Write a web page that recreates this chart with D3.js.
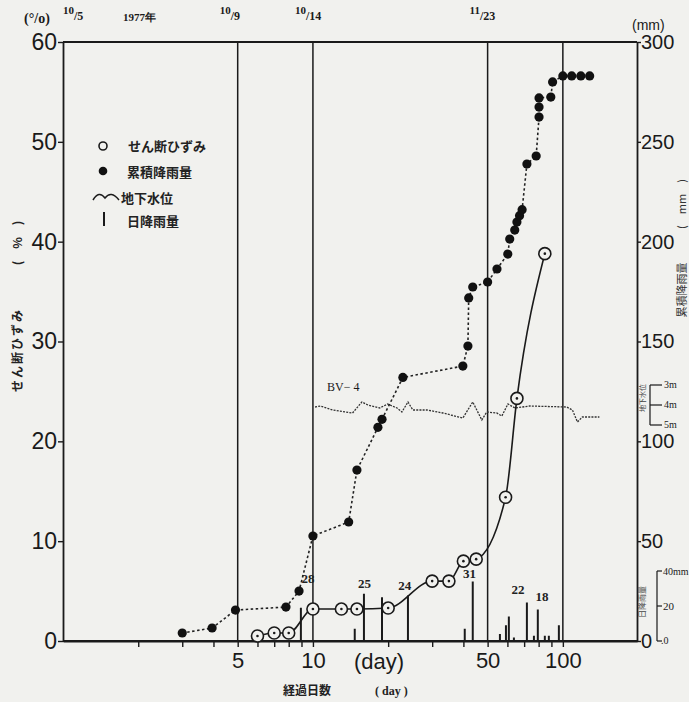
<!DOCTYPE html>
<html>
<head>
<meta charset="utf-8">
<script src="https://cdn.jsdelivr.net/npm/d3@7"></script>
<style>
  body { margin: 0; background: #f1f1ee; }
  svg { display: block; }
</style>
</head>
<body>
<div id="chart"></div>
<script>
// shear strain (%) - open circles
var strainDays = [6, 7, 8, 10, 13, 15, 20, 30, 35, 40, 45, 59, 65.5, 84.7];
var strainVals = [0.5, 0.8, 0.8, 3.2, 3.2, 3.2, 3.3, 6.0, 6.0, 8.0, 8.2, 14.4, 24.3, 38.8];

// cumulative rainfall (mm) - filled circles
var cumDays = [3, 3.95, 4.9, 7.8, 8.8, 10, 13.9, 15, 18.2, 18.9, 22.9, 39.8, 41.7, 42, 43.6, 50, 54.5,
               60.2, 61.3, 64.2, 65.5, 67.1, 68.7, 71.8, 78.2, 80.3, 80.3, 80.3, 89.5, 91, 100, 108.5, 118, 128];
var cumMm = [4, 6.5, 15.5, 17, 25, 52.6, 59.6, 85.6, 107, 111, 132, 137.7, 147.7, 171.8, 177.3, 179.8, 186.3,
             193.8, 201.3, 205.8, 209.8, 213, 216, 238.9, 242.9, 262.4, 267.4, 272, 272.4, 280, 283, 283, 283, 283];

// groundwater level BV-4 (m below surface)
var gwDays = [10.2, 10.7, 12.0, 14.4, 15.7, 16.6, 18.5, 19.9, 21.7, 22.7, 24.0, 25.1, 28.6, 33.1,
              39.8, 43.6, 47.4, 49.6, 54.4, 57.0, 60.3, 64.3, 73.7, 103.5, 109.2, 114.4, 119.7, 140];
var gwDepth = [4.1, 4.05, 4.25, 4.4, 3.85, 4.0, 4.15, 3.95, 4.15, 4.35, 3.85, 4.25, 4.25, 4.4,
               4.65, 3.85, 4.75, 4.35, 4.4, 4.55, 3.95, 4.15, 4.05, 4.1, 4.25, 4.85, 4.6, 4.6];

// daily rainfall (mm) - bars
var rainDays = [8.95, 14.7, 16.0, 18.9, 24.0, 40.5, 43.6, 56, 59.2, 60.8, 63.7, 71.8, 76.6, 79.4, 84.7, 87.9, 96.4];
var rainMm = [19, 7, 27, 25, 26, 7, 34, 4, 9, 14, 2, 22, 3, 18, 3, 3, 9];
var rainLabelDays = [9.55, 16.1, 23.3, 42.3, 66.1, 82.6];
var rainLabels = [28, 25, 24, 31, 22, 18];

// axes
var leftTicks = [0, 10, 20, 30, 40, 50, 60];
var rightTicks = [0, 50, 100, 150, 200, 250, 300];
var dayTicks = [2, 3, 4, 5, 6, 7, 8, 9, 10, 20, 30, 40, 50, 60, 70, 80, 90, 100];
var dayLabels = [5, 10, 50, 100];
var markDays = [5, 10, 50, 100];
var dateDays = [1, 5, 10, 50];
var dateMonth = ["10", "10", "10", "11"];
var dateDay = ["5", "9", "14", "23"];
var gwTicks = [3, 4, 5];

var W = 689, H = 702;
var svg = d3.select("#chart").append("svg").attr("width", W).attr("height", H);
svg.append("rect").attr("width", W).attr("height", H).attr("fill", "#f1f1ee");

var x = d3.scaleLog().domain([1, 198]).range([63, 637]);
var yL = d3.scaleLinear().domain([0, 60]).range([641, 42]);
var yR = d3.scaleLinear().domain([0, 300]).range([641, 42]);
var yRain = d3.scaleLinear().domain([0, 40]).range([641, 571]);
var yGw = d3.scaleLinear().domain([3, 5]).range([385, 425]);

var ink = "#1a1a1a";
var sans = "'Liberation Sans', Arial, sans-serif";
var serif = "'Liberation Serif', 'DejaVu Serif', serif";
var jp = "'Noto Sans CJK JP', sans-serif";

// vertical date lines
svg.append("g").selectAll("line").data(markDays).enter().append("line")
   .attr("x1", function(d) { return x(d); }).attr("x2", function(d) { return x(d); })
   .attr("y1", 42).attr("y2", 641)
   .attr("stroke", ink).attr("stroke-width", 1.5);

// axes
var gl = svg.append("g").attr("transform", "translate(63,0)")
  .call(d3.axisLeft(yL).tickValues(leftTicks).tickSize(5).tickPadding(1).tickSizeOuter(0));
gl.selectAll("text").attr("font-family", sans).attr("font-size", 23).attr("fill", ink);

var gr = svg.append("g").attr("transform", "translate(637,0)")
  .call(d3.axisRight(yR).tickValues(rightTicks).tickSize(4).tickPadding(0).tickSizeOuter(0));
gr.selectAll("text").attr("font-family", sans).attr("font-size", 20).attr("fill", ink);

var gb = svg.append("g").attr("transform", "translate(0,641)")
  .call(d3.axisBottom(x).tickValues(dayTicks).tickSize(6).tickPadding(5).tickSizeOuter(0)
        .tickFormat(function(d) { return dayLabels.indexOf(d) >= 0 ? d : ""; }));
gb.selectAll("text").attr("font-family", sans).attr("font-size", 22).attr("fill", ink);

[gl, gr, gb].forEach(function(g) {
  g.selectAll("line").attr("stroke", ink).attr("stroke-width", 1.4);
  g.select(".domain").attr("stroke", ink).attr("stroke-width", 1.8);
});

// top and bottom frame
svg.append("line").attr("x1", 63).attr("x2", 637).attr("y1", 42).attr("y2", 42)
   .attr("stroke", ink).attr("stroke-width", 2.2);
svg.append("line").attr("x1", 63).attr("x2", 637).attr("y1", 641).attr("y2", 641)
   .attr("stroke", ink).attr("stroke-width", 2.2);

// daily rainfall bars
svg.append("g").selectAll("line").data(rainDays).enter().append("line")
   .attr("x1", function(d) { return x(d); }).attr("x2", function(d) { return x(d); })
   .attr("y1", yRain(0)).attr("y2", function(d, i) { return yRain(rainMm[i]); })
   .attr("stroke", ink).attr("stroke-width", 2);

svg.append("g").selectAll("text").data(rainLabels).enter().append("text")
   .attr("x", function(d, i) { return x(rainLabelDays[i]); })
   .attr("y", function(d) { return yRain(d) - 9; })
   .attr("text-anchor", "middle")
   .attr("font-family", serif).attr("font-size", 13).attr("font-weight", "bold")
   .attr("fill", "#222").text(function(d) { return d; });

// groundwater
var gwLine = d3.line().x(function(d, i) { return x(gwDays[i]); }).y(function(d) { return yGw(d); });
svg.append("path").datum(gwDepth).attr("d", gwLine)
   .attr("fill", "none").attr("stroke", "#333").attr("stroke-width", 1.3)
   .attr("stroke-dasharray", "2,1.2");
svg.append("text").attr("x", 327).attr("y", 391)
   .attr("font-family", serif).attr("font-size", 12).attr("fill", ink).text("BV\u2212 4");

// cumulative rainfall
var cumLine = d3.line().x(function(d, i) { return x(cumDays[i]); }).y(function(d) { return yR(d); });
svg.append("path").datum(cumMm).attr("d", cumLine)
   .attr("fill", "none").attr("stroke", "#222").attr("stroke-width", 1.6)
   .attr("stroke-dasharray", "2.5,2.5");
svg.append("g").selectAll("circle").data(cumMm).enter().append("circle")
   .attr("cx", function(d, i) { return x(cumDays[i]); })
   .attr("cy", function(d) { return yR(d); })
   .attr("r", 4.6).attr("fill", "#111");

// shear strain
var strainLine = d3.line().curve(d3.curveMonotoneX)
   .x(function(d, i) { return x(strainDays[i]); }).y(function(d) { return yL(d); });
svg.append("path").datum(strainVals).attr("d", strainLine)
   .attr("fill", "none").attr("stroke", ink).attr("stroke-width", 1.6);
var sc = svg.append("g").selectAll("g").data(strainVals).enter().append("g")
   .attr("transform", function(d, i) { return "translate(" + x(strainDays[i]) + "," + yL(d) + ")"; });
sc.append("circle").attr("r", 6).attr("fill", "#f1f1ee").attr("stroke", ink).attr("stroke-width", 1.6);
sc.append("circle").attr("r", 1.3).attr("fill", ink);

// legend
var lg = svg.append("g").attr("font-family", jp).attr("font-size", 13).attr("font-weight", "bold").attr("fill", "#222");
lg.append("circle").attr("cx", 103).attr("cy", 146).attr("r", 4).attr("fill", "none").attr("stroke", ink).attr("stroke-width", 1.6);
lg.append("text").attr("x", 128).attr("y", 151).text("せん断ひずみ");
lg.append("circle").attr("cx", 103).attr("cy", 171).attr("r", 4.3).attr("fill", "#111");
lg.append("text").attr("x", 127).attr("y", 177).text("累積降雨量");
lg.append("path").attr("d", "M93,200 Q99,190 105,198 Q111,190 119,200")
  .attr("fill", "none").attr("stroke", ink).attr("stroke-width", 1.5);
lg.append("text").attr("x", 121).attr("y", 203).text("地下水位");
lg.append("line").attr("x1", 104).attr("x2", 104).attr("y1", 212).attr("y2", 226).attr("stroke", ink).attr("stroke-width", 2);
lg.append("text").attr("x", 127).attr("y", 226).text("日降雨量");

// top annotations
svg.append("text").attr("x", 24).attr("y", 23).attr("font-family", serif).attr("font-size", 14)
   .attr("font-weight", "bold").attr("fill", ink).text("(°/o)");
var dl = svg.append("g").selectAll("text").data(dateDays).enter().append("text")
   .attr("font-family", serif).attr("font-weight", "bold").attr("fill", ink).attr("font-size", 11)
   .attr("x", function(d, i) { return x(d) + (i === 0 ? 0 : -18); }).attr("y", 14);
dl.append("tspan").text(function(d, i) { return dateMonth[i]; });
dl.append("tspan").attr("dy", 6).attr("font-size", 12).text(function(d, i) { return "/" + dateDay[i]; });
svg.append("text").attr("x", 123).attr("y", 21).attr("font-family", serif).attr("font-size", 11)
   .attr("font-weight", "bold").attr("fill", ink).text("1977年");
svg.append("text").attr("x", 632).attr("y", 30).attr("font-family", sans).attr("font-size", 14)
   .attr("fill", ink).text("(mm)");

// axis titles
svg.append("text").attr("transform", "translate(22,350) rotate(-90)").attr("text-anchor", "middle")
   .attr("font-family", jp).attr("font-size", 12).attr("font-weight", "bold").attr("letter-spacing", 2)
   .attr("fill", "#222").text("せん断ひずみ");
svg.append("text").attr("transform", "translate(22,243) rotate(-90)").attr("text-anchor", "middle")
   .attr("font-family", jp).attr("font-size", 12).attr("font-weight", "bold")
   .attr("fill", "#222").text("(　%　)");
svg.append("text").attr("transform", "translate(686,290) rotate(-90)").attr("text-anchor", "middle")
   .attr("font-family", jp).attr("font-size", 11).attr("fill", "#333").text("累積降雨量");
svg.append("text").attr("transform", "translate(686,204) rotate(-90)").attr("text-anchor", "middle")
   .attr("font-family", jp).attr("font-size", 11).attr("fill", "#333").text("(　mm　)");

// bottom titles
svg.append("text").attr("x", 379).attr("y", 669).attr("text-anchor", "middle")
   .attr("font-family", sans).attr("font-size", 22).attr("fill", ink).text("(day)");
svg.append("text").attr("x", 283).attr("y", 695).attr("font-family", jp).attr("font-size", 12)
   .attr("font-weight", "bold").attr("fill", "#222").text("経過日数");
svg.append("text").attr("x", 375).attr("y", 695).attr("font-family", serif).attr("font-size", 12)
   .attr("font-weight", "bold").attr("fill", "#222").text("( day )");

// groundwater scale
var gs = svg.append("g").attr("stroke", ink).attr("stroke-width", 1.2);
gs.append("line").attr("x1", 650).attr("x2", 650).attr("y1", yGw(3)).attr("y2", yGw(5));
gwTicks.forEach(function(t) {
  gs.append("line").attr("x1", 650).attr("x2", 662).attr("y1", yGw(t)).attr("y2", yGw(t));
});
svg.append("g").selectAll("text").data(gwTicks).enter().append("text")
   .attr("x", 664).attr("y", function(d) { return yGw(d) + 3; })
   .attr("font-family", serif).attr("font-size", 10).attr("fill", ink)
   .text(function(d) { return d + "m"; });
svg.append("text").attr("transform", "translate(645,398) rotate(-90)").attr("text-anchor", "middle")
   .attr("font-family", jp).attr("font-size", 7).attr("fill", "#444").text("地下水位");

// daily rain scale
var rs = svg.append("g").attr("stroke", ink).attr("stroke-width", 1.2);
rs.append("line").attr("x1", 657).attr("x2", 657).attr("y1", yRain(40)).attr("y2", yRain(0));
[40, 20, 0].forEach(function(t) {
  rs.append("line").attr("x1", 657).attr("x2", 662).attr("y1", yRain(t)).attr("y2", yRain(t));
});
svg.append("text").attr("x", 663).attr("y", yRain(40) + 4).attr("font-family", serif).attr("font-size", 10)
   .attr("fill", ink).text("40mm");
svg.append("text").attr("x", 663).attr("y", yRain(20) + 4).attr("font-family", serif).attr("font-size", 11)
   .attr("fill", ink).text("20");
svg.append("text").attr("x", 661).attr("y", yRain(0) + 3).attr("font-family", serif).attr("font-size", 10)
   .attr("fill", ink).text(".0");
svg.append("text").attr("transform", "translate(645,602) rotate(-90)").attr("text-anchor", "middle")
   .attr("font-family", jp).attr("font-size", 8).attr("fill", "#444").text("日降雨量");
</script>
</body>
</html>
